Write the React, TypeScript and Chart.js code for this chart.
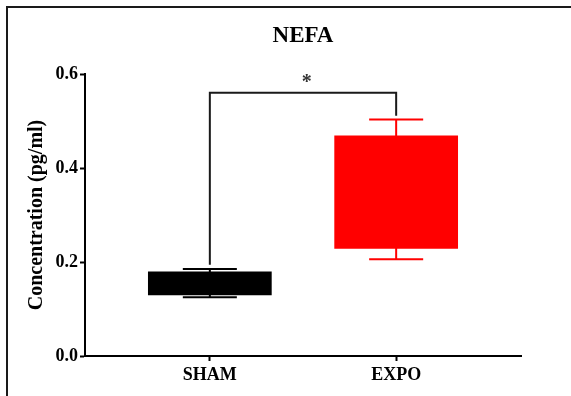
import React, { useEffect, useRef } from 'react';
import { Chart, registerables } from 'chart.js';

Chart.register(...registerables);

// ---- data ----
const CATEGORIES = ['SHAM', 'EXPO'];
const Q1 = [0.129, 0.228];
const Q3 = [0.18, 0.469];
const MIN = [0.125, 0.206];
const MAX = [0.185, 0.503];
const COLORS = ['#000000', '#ff0000'];
const Y_TICKS = [0, 0.2, 0.4, 0.6];
const BRACKET_X = [1, 2];
const BRACKET_LEG_BOTTOM = [0.194, 0.511];
const BRACKET_TOP = 0.56;
const SIG_TEXT = '*';
const SIG_POS = [1.52, 0.571];
const TITLE = 'NEFA';
const Y_TITLE = 'Concentration (pg/ml)';

const FONT = "'Liberation Serif', 'Times New Roman', serif";
const CAP_HALF = 0.145;

function whiskerData(i: number) {
  const x = i + 1;
  return [
    { x: x - CAP_HALF, y: MAX[i] },
    { x: x + CAP_HALF, y: MAX[i] },
    { x: x + CAP_HALF, y: null },
    { x: x, y: MAX[i] },
    { x: x, y: MIN[i] },
    { x: x, y: null },
    { x: x - CAP_HALF, y: MIN[i] },
    { x: x + CAP_HALF, y: MIN[i] },
  ];
}

const sigPlugin = {
  id: 'sigText',
  afterDatasetsDraw(chart: any) {
    const { ctx, scales } = chart;
    const x = scales.x.getPixelForValue(SIG_POS[0]);
    const y = scales.y.getPixelForValue(SIG_POS[1]);
    ctx.save();
    ctx.font = `bold 20px ${FONT}`;
    ctx.fillStyle = '#333333';
    ctx.textAlign = 'center';
    ctx.textBaseline = 'alphabetic';
    ctx.fillText(SIG_TEXT, x, y);
    ctx.restore();
  },
};

// frame lines (top and left only) drawn on the canvas
const framePlugin = {
  id: 'frame',
  afterDraw(chart: any) {
    const { ctx, width, height } = chart;
    ctx.save();
    ctx.fillStyle = '#1a1a1a';
    ctx.fillRect(6, 6, width - 6, 2);
    ctx.fillRect(6, 6, 2, height - 6);
    ctx.restore();
  },
};

export default function App() {
  const ref = useRef<HTMLCanvasElement | null>(null);

  useEffect(() => {
    if (!ref.current) return;
    const bracket = [
      { x: BRACKET_X[0], y: BRACKET_LEG_BOTTOM[0] },
      { x: BRACKET_X[0], y: BRACKET_TOP },
      { x: BRACKET_X[1], y: BRACKET_TOP },
      { x: BRACKET_X[1], y: BRACKET_LEG_BOTTOM[1] },
    ];
    const chart = new Chart(ref.current, {
      type: 'bar',
      data: {
        datasets: [
          {
            type: 'bar',
            data: CATEGORIES.map((_, i) => ({ x: i + 1, y: [Q1[i], Q3[i]] })) as any,
            backgroundColor: COLORS,
            borderWidth: 0,
            barPercentage: 0.664,
            categoryPercentage: 1,
            grouped: false,
          } as any,
          ...CATEGORIES.map((_, i) => ({
            type: 'line',
            data: whiskerData(i),
            borderColor: COLORS[i],
            borderWidth: 2,
            pointRadius: 0,
            fill: false,
            spanGaps: false,
            borderCapStyle: 'butt',
          })) as any,
          {
            type: 'line',
            data: bracket,
            borderColor: '#1a1a1a',
            borderWidth: 2,
            pointRadius: 0,
            fill: false,
            borderJoinStyle: 'miter',
          } as any,
        ],
      },
      options: {
        animation: false,
        responsive: false,
        events: [],
        layout: { padding: { left: 25, right: 50, top: 0, bottom: 0 } },
        plugins: {
          legend: { display: false },
          tooltip: { enabled: false },
          title: {
            display: true,
            text: TITLE,
            fullSize: false,
            color: '#000',
            font: { family: FONT, size: 23, weight: 'bold' },
            padding: { top: 22.5, bottom: 23.9 },
          },
        },
        scales: {
          x: {
            type: 'linear',
            offset: false,
            min: 0.33,
            max: 2.67,
            afterBuildTicks: (s: any) => {
              s.ticks = CATEGORIES.map((_, i) => ({ value: i + 1 }));
            },
            afterFit: (s: any) => {
              s.height = 40;
            },
            ticks: {
              autoSkip: false,
              maxRotation: 0,
              color: '#000',
              padding: 4,
              font: { family: FONT, size: 18, weight: 'bold' },
              callback: (v: any) => CATEGORIES[Math.round(Number(v)) - 1] ?? '',
            },
            grid: { offset: false, drawOnChartArea: false, tickLength: 5, tickWidth: 2, color: '#000' },
            border: { color: '#000', width: 2 },
          },
          y: {
            min: 0,
            max: 0.6,
            afterBuildTicks: (s: any) => {
              s.ticks = Y_TICKS.map((v) => ({ value: v }));
            },
            afterFit: (s: any) => {
              s.width = 60;
            },
            ticks: {
              color: '#000',
              padding: 2,
              font: { family: FONT, size: 18, weight: 'bold' },
              callback: (v: any) => Number(v).toFixed(1),
            },
            grid: { drawOnChartArea: false, tickLength: 5, tickWidth: 2, color: '#000' },
            border: { color: '#000', width: 2 },
            title: {
              display: true,
              text: Y_TITLE,
              color: '#000',
              padding: 0,
              font: { family: FONT, size: 20, weight: 'bold' },
            },
          },
        },
      } as any,
      plugins: [sigPlugin, framePlugin],
    });
    return () => chart.destroy();
  }, []);

  return (
    <canvas
      ref={ref}
      width={571}
      height={396}
      style={{ position: 'fixed', left: 0, top: 0, width: 571, height: 396, display: 'block', background: '#fff' }}
    />
  );
}
